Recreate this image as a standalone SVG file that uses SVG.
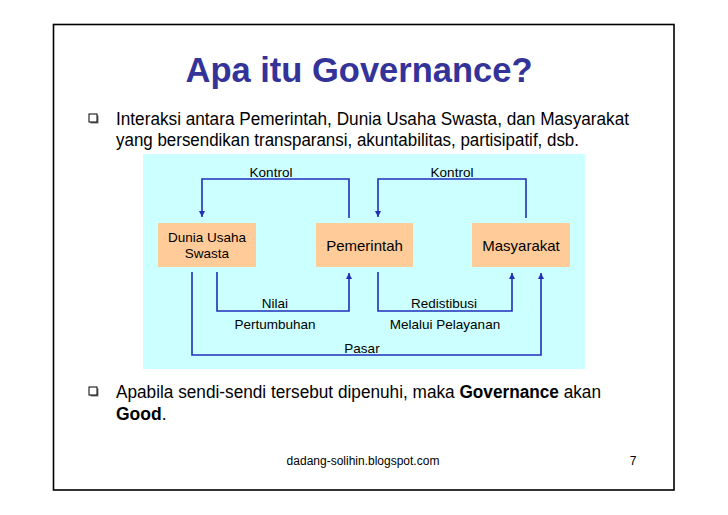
<svg xmlns="http://www.w3.org/2000/svg" width="728" height="515" viewBox="0 0 728 515">
<style>
.t{font-family:"Liberation Sans",Arial,sans-serif;fill:#000}
.title{font-family:"Liberation Sans",Arial,sans-serif;font-weight:bold;font-size:34.5px;fill:#333399}
.body{font-size:17.5px}
.lbl{font-size:13.5px}
.box{fill:#FFCC99}
.con{fill:none;stroke:#1F2FB8;stroke-width:1.6}
</style>
<defs>
<marker id="ah" viewBox="0 0 10 10" refX="10" refY="5" markerWidth="6" markerHeight="6" markerUnits="userSpaceOnUse" orient="auto">
<path d="M0,0 L10,5 L0,10 z" fill="#1F2FB8"/>
</marker>
<g id="bul">
<rect x="1.5" y="1.5" width="8" height="8" fill="#777"/>
<rect x="0" y="0" width="8" height="8" fill="#fff" stroke="#000" stroke-width="1"/>
</g>
</defs>
<rect x="0" y="0" width="728" height="515" fill="#fff"/>
<rect x="53.5" y="24.5" width="620.5" height="465.5" fill="none" stroke="#000" stroke-width="1.6"/>
<text class="title" x="359" y="82" text-anchor="middle">Apa itu Governance?</text>
<use href="#bul" x="89" y="114"/>
<text class="t body" x="116" y="125" textLength="513" lengthAdjust="spacingAndGlyphs">Interaksi antara Pemerintah, Dunia Usaha Swasta, dan Masyarakat</text>
<text class="t body" x="116" y="146" textLength="463" lengthAdjust="spacingAndGlyphs">yang bersendikan transparansi, akuntabilitas, partisipatif, dsb.</text>
<rect x="143" y="154" width="442" height="215" fill="#CCFFFF"/>
<g id="connectors">
<polyline class="con" points="349,218 349,179 202,179 202,217" marker-end="url(#ah)"/>
<polyline class="con" points="526,218 526,179 378,179 378,217" marker-end="url(#ah)"/>
<polyline class="con" points="217,272 217,311 349,311 349,273" marker-end="url(#ah)"/>
<polyline class="con" points="378,272 378,311 512,311 512,273" marker-end="url(#ah)"/>
<polyline class="con" points="192,272 192,355 541,355 541,273" marker-end="url(#ah)"/>
<text class="t lbl" x="271" y="177" text-anchor="middle">Kontrol</text>
<text class="t lbl" x="452" y="177" text-anchor="middle">Kontrol</text>
<text class="t lbl" x="275" y="308" text-anchor="middle">Nilai</text>
<text class="t lbl" x="275" y="329" text-anchor="middle">Pertumbuhan</text>
<text class="t lbl" x="444" y="308" text-anchor="middle">Redistibusi</text>
<text class="t lbl" x="445" y="329" text-anchor="middle">Melalui Pelayanan</text>
<text class="t lbl" x="362" y="353" text-anchor="middle">Pasar</text>
</g>
<g id="dunia">
<rect class="box" x="158" y="223" width="98" height="44"/>
<text class="t lbl" x="207" y="242" text-anchor="middle">Dunia Usaha</text>
<text class="t lbl" x="207" y="258" text-anchor="middle">Swasta</text>
</g>
<g id="pemerintah">
<rect class="box" x="316" y="223" width="97" height="44"/>
<text class="t" font-size="15" x="364.5" y="251" text-anchor="middle">Pemerintah</text>
</g>
<g id="masyarakat">
<rect class="box" x="472" y="223" width="98" height="44"/>
<text class="t" font-size="15" x="521" y="251" text-anchor="middle">Masyarakat</text>
</g>
<use href="#bul" x="89" y="387"/>
<text class="t body" x="116" y="398" textLength="485" lengthAdjust="spacingAndGlyphs">Apabila sendi-sendi tersebut dipenuhi, maka <tspan font-weight="bold">Governance</tspan> akan</text>
<text class="t body" x="116" y="420"><tspan font-weight="bold">Good</tspan>.</text>
<text class="t" font-size="12" x="363" y="465" text-anchor="middle">dadang-solihin.blogspot.com</text>
<text class="t" font-size="12" x="633" y="465" text-anchor="middle">7</text>
</svg>
